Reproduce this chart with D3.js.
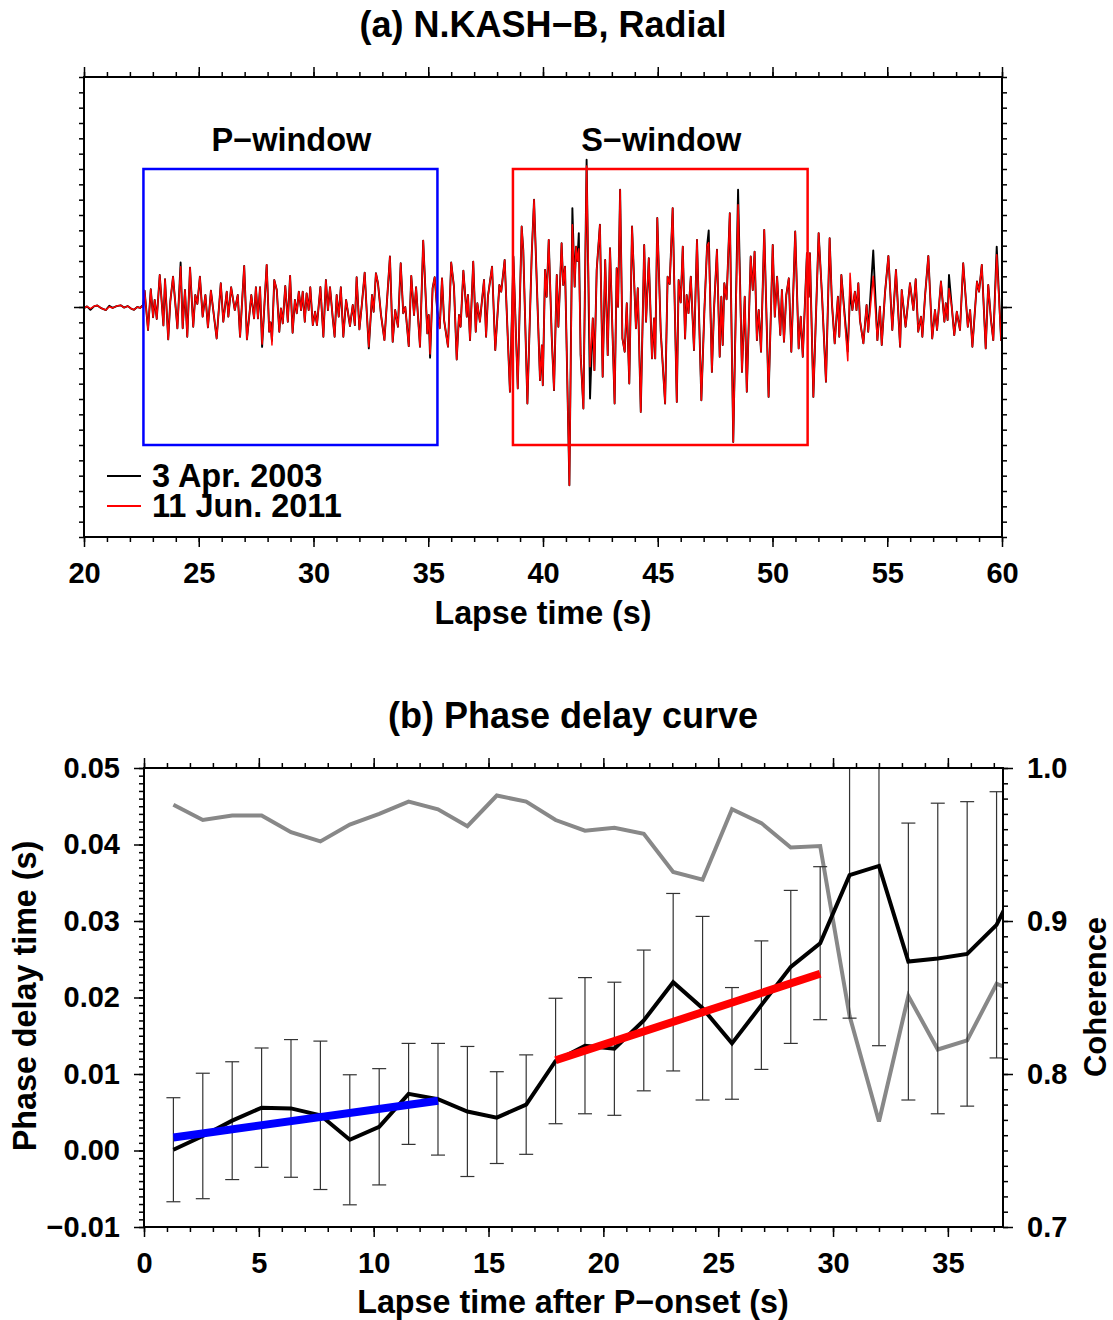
<!DOCTYPE html>
<html><head><meta charset="utf-8">
<script src="https://cdn.jsdelivr.net/npm/d3@7"></script>
<style>
body{margin:0;background:#fff}
svg text{font-family:"Liberation Sans",Arial,Helvetica,sans-serif;font-weight:bold;fill:#000}
</style></head><body>
<svg id="chart" width="1113" height="1320"></svg>
<script>
// ---------------- Panel (a) data: seismogram extrema (time s, amplitude, arbitrary units) ----------------
const waveTimes = [
20.00,20.13,20.28,20.45,20.58,20.75,20.95,21.10,21.25,21.42,21.60,21.75,21.90,22.05,22.18,22.32,22.45,22.54,22.58,
22.64,22.79,22.91,23.01,23.08,23.17,23.30,23.46,23.53,23.67,23.76,23.88,24.07,24.21,24.30,24.40,24.50,24.62,24.76,24.85,24.94,
25.05,25.17,25.29,25.40,25.53,25.78,25.96,26.07,26.22,26.29,26.41,26.57,26.70,26.80,26.98,27.10,27.29,27.41,27.49,27.58,27.67,
27.76,27.96,28.07,28.13,28.19,28.29,28.40,28.51,28.58,28.66,28.77,28.88,28.98,29.09,29.19,29.27,29.36,29.46,29.53,29.62,29.70,
29.79,29.86,29.97,30.07,30.15,30.30,30.43,30.54,30.63,30.72,30.84,30.92,31.01,31.10,31.19,31.30,31.42,31.59,31.71,31.80,31.88,
32.00,32.11,32.23,32.32,32.41,32.55,32.62,32.72,32.81,32.94,33.09,33.33,33.45,33.56,33.68,33.80,33.91,34.00,34.15,34.26,34.38,
34.47,34.64,34.78,34.96,35.02,35.08,35.19,35.28,35.39,35.50,35.60,35.69,35.86,36.00,36.12,36.24,36.34,36.41,36.53,36.68,36.73,
36.82,36.96,37.07,37.14,37.25,37.43,37.52,37.60,37.78,37.92,38.10,38.18,38.33,38.56,38.71,38.90,39.07,39.14,39.32,39.51,39.61,
39.87,39.95,39.99,40.09,40.16,40.25,40.38,40.48,40.60,40.67,40.81,40.88,40.96,41.15,41.28,41.38,41.44,41.50,41.56,41.64,41.76,
41.90,42.05,42.17,42.24,42.34,42.48,42.60,42.71,42.82,42.92,43.12,43.21,43.27,43.36,43.46,43.56,43.65,43.76,43.88,44.05,44.13,
44.26,44.41,44.49,44.61,44.75,44.84,44.89,44.98,45.13,45.32,45.43,45.52,45.65,45.83,45.91,46.00,46.09,46.19,46.26,46.34,46.44,
46.58,46.71,46.90,47.03,47.15,47.22,47.36,47.45,47.58,47.70,47.77,47.83,47.90,48.00,48.14,48.29,48.50,48.67,48.79,48.88,49.05,
49.14,49.22,49.32,49.40,49.50,49.64,49.83,50.01,50.10,50.20,50.34,50.41,50.50,50.60,50.71,50.82,50.99,51.14,51.23,51.32,51.50,
51.58,51.63,51.78,52.01,52.16,52.33,52.49,52.59,52.71,52.85,52.91,53.00,53.28,53.38,53.48,53.59,53.66,53.74,53.81,53.96,54.10,
54.17,54.39,54.57,54.68,54.76,54.90,55.05,55.22,55.38,55.56,55.63,55.80,55.99,56.14,56.24,56.35,56.47,56.53,56.65,56.79,56.96,
57.08,57.17,57.34,57.49,57.55,57.63,57.69,57.81,57.92,58.03,58.17,58.31,58.51,58.61,58.71,58.91,59.00,59.12,59.29,59.40,59.52,
59.62,59.77,59.96,60.00];
const wave2011 = [
-0.008,0.004,-0.010,0.006,0.010,-0.008,-0.020,0.002,-0.006,0.006,0.011,-0.004,0.006,-0.010,-0.018,0.000,-0.006,0.008,0.000,
0.107,-0.150,0.116,-0.067,0.046,-0.078,0.209,-0.120,0.181,-0.211,0.035,0.198,-0.139,0.263,-0.139,0.111,-0.194,0.257,-0.129,0.078,0.020,
0.198,-0.063,0.078,-0.133,0.107,-0.205,0.155,-0.096,0.100,-0.063,0.129,-0.020,0.078,-0.194,0.268,-0.211,0.078,-0.074,0.129,-0.074,0.129,
-0.242,0.275,-0.161,-0.100,-0.248,0.176,0.111,-0.161,-0.009,-0.107,0.137,-0.096,0.203,-0.168,0.046,-0.041,0.100,-0.020,0.100,-0.096,0.089,
-0.020,0.129,-0.118,-0.031,-0.118,0.130,-0.194,0.176,-0.020,0.129,-0.074,-0.194,0.078,-0.063,0.129,-0.194,0.046,-0.124,0.013,-0.118,0.194,
-0.146,0.020,0.224,-0.031,-0.259,0.078,-0.031,0.220,0.155,-0.050,-0.216,0.329,-0.227,-0.020,-0.129,0.285,-0.041,0.000,-0.255,0.203,-0.052,
0.129,-0.259,0.433,-0.172,-0.052,-0.307,0.122,0.194,-0.020,-0.139,0.187,-0.085,-0.259,0.290,0.133,-0.342,-0.052,-0.129,0.237,-0.063,0.078,
-0.216,0.296,-0.161,0.024,-0.096,0.176,-0.194,0.067,0.263,-0.281,0.144,0.100,0.307,-0.553,0.329,-0.531,0.525,0.373,-0.629,0.350,0.699,
-0.477,-0.250,-0.510,0.242,0.067,0.438,-0.194,-0.542,0.209,-0.129,0.416,0.144,0.263,-1.163,0.536,0.133,0.394,0.300,0.380,-0.314,-0.662,
0.920,-0.390,-0.074,-0.412,0.242,0.536,-0.455,0.307,-0.314,0.383,-0.629,0.253,0.002,0.765,-0.205,-0.292,0.024,-0.499,0.525,-0.139,0.122,
-0.684,0.405,-0.096,0.318,-0.335,-0.074,-0.335,0.580,-0.161,-0.629,0.198,0.150,0.645,-0.619,0.176,0.030,0.394,-0.205,0.078,-0.040,0.198,
-0.281,0.438,-0.608,-0.031,0.399,0.420,-0.423,-0.020,0.373,-0.325,0.067,-0.248,0.155,0.050,0.612,-0.880,0.667,-0.423,0.067,-0.553,0.329,
0.111,0.361,-0.216,-0.020,-0.292,0.503,-0.586,0.405,-0.063,0.198,-0.183,0.111,-0.227,0.078,0.187,-0.292,0.492,-0.270,-0.063,-0.325,0.351,
0.067,0.351,-0.586,0.482,0.067,-0.488,0.449,0.024,-0.237,0.067,-0.194,0.209,-0.350,0.220,-0.020,0.100,-0.020,0.155,-0.085,-0.237,0.013,
-0.161,0.200,-0.216,0.002,-0.248,0.089,0.333,-0.150,0.242,-0.259,0.111,-0.129,0.155,-0.020,0.181,-0.161,-0.063,-0.194,0.078,0.333,-0.205,
-0.020,-0.150,0.166,-0.096,0.024,-0.085,0.120,0.002,-0.183,-0.031,-0.150,0.285,-0.129,-0.020,-0.259,0.166,0.100,0.275,-0.270,0.144,-0.085,
-0.216,0.340,-0.216,-0.150];
// 2003 trace: same as 2011 except at these peaks [time, amplitude]
const wave2003Peaks = [[20.28,-0.018],[21.10,0.008],[24.21,0.290],[27.76,-0.260],[28.19,-0.220],[32.41,-0.270],[35.08,-0.330],
[41.28,0.645],[41.56,0.482],[41.90,0.960],[42.05,-0.597],[47.22,0.499],[48.50,0.765],[53.28,-0.290],[53.38,0.100],
[54.39,0.368],[57.69,0.209],[59.77,0.394]];
const windowNames = ["P\u2212window","S\u2212window"];
const windowStart = [22.59, 38.69];
const windowEnd = [35.40, 51.53];
const windowHalfHeight = 0.9;
const windowColors = ["#0000ff","#ff0000"];
const legendLabels = ["3 Apr. 2003","11 Jun. 2011"];
const traceColors = ["#000000","#ff0000"];
const xTicksA = [20,25,30,35,40,45,50,55,60];

// ---------------- Panel (b) data ----------------
const lagTime = [1.28,2.56,3.84,5.12,6.40,7.68,8.96,10.24,11.52,12.80,14.08,15.36,16.64,17.92,19.20,20.48,21.76,23.04,24.32,25.60,
26.88,28.16,29.44,30.72,32.00,33.28,34.56,35.84,37.12,38.40];
const phaseDelay = [0.0001,0.0019,0.0039,0.0056,0.0055,0.0046,0.0014,0.0031,0.0074,0.0067,0.0051,0.0043,0.0060,0.0117,0.0137,0.0133,
0.0170,0.0220,0.0186,0.0140,0.0190,0.0240,0.0271,0.0360,0.0372,0.0247,0.0251,0.0257,0.0295,0.0372];
const phaseErr = [0.0068,0.0082,0.0077,0.0078,0.0090,0.0097,0.0085,0.0076,0.0066,0.0073,0.0085,0.0060,0.0065,0.0082,0.0089,0.0087,
0.0092,0.0116,0.0120,0.0073,0.0084,0.0100,0.0100,0.0187,0.0235,0.0181,0.0203,0.0199,0.0174,0.0180];
const coherence = [0.976,0.966,0.969,0.969,0.958,0.952,0.963,0.970,0.978,0.973,0.962,0.982,0.978,0.966,0.959,0.961,0.957,0.932,0.927,
0.973,0.964,0.948,0.949,0.838,0.769,0.851,0.816,0.822,0.859,0.851];
const fitPTime = [1.28, 12.80], fitPDelay = [0.0017, 0.0065];
const fitSTime = [17.92, 29.44], fitSDelay = [0.0118, 0.0231];
const xTicksB = [0,5,10,15,20,25,30,35];
const yTicksL = [-0.01,0.00,0.01,0.02,0.03,0.04,0.05];
const yTicksR = [0.7,0.8,0.9,1.0];

// ---------------- drawing ----------------
const svg = d3.select("#chart");
const FF = '"Liberation Sans",Arial,Helvetica,sans-serif';

function styleAxis(a, fs){
  a.select(".domain").remove();
  a.selectAll(".tick line").attr("stroke","#000").attr("stroke-width",1.5);
  a.selectAll(".tick text").attr("font-size",fs).attr("font-family",FF).attr("font-weight","bold").attr("fill","#000");
  return a;
}
function drawAxis(gen, tr, fs){ return styleAxis(svg.append("g").attr("transform",tr).call(gen), fs||29); }

// ===== Panel (a) =====
const xA = d3.scaleLinear().domain([20,60]).range([84,1002]);
const yA = d3.scaleLinear().domain([-1.5,1.5]).range([537,77]);
svg.append("clipPath").attr("id","clipA").append("rect")
  .attr("x",xA(20)).attr("y",yA(1.5)).attr("width",xA(60)-xA(20)).attr("height",yA(-1.5)-yA(1.5));

const overrides = new Map(wave2003Peaks.map(d=>[d[0].toFixed(2), d[1]]));
const wave2003 = waveTimes.map((t,i)=> overrides.has(t.toFixed(2)) ? overrides.get(t.toFixed(2)) : wave2011[i]);
const lineA = d3.line().x(d=>xA(d[0])).y(d=>yA(d[1]));
const traces = [waveTimes.map((t,i)=>[t,wave2003[i]]), waveTimes.map((t,i)=>[t,wave2011[i]])];
const traceWidths = [1.9, 1.5];
const gA = svg.append("g").attr("clip-path","url(#clipA)");
traces.forEach((tr,i)=>{
  gA.append("path").datum(tr).attr("d",lineA).attr("fill","none")
    .attr("stroke",traceColors[i]).attr("stroke-width",traceWidths[i]).attr("stroke-linejoin","round");
});
// windows
windowNames.forEach((n,i)=>{
  svg.append("rect").attr("x",xA(windowStart[i])).attr("y",yA(windowHalfHeight))
    .attr("width",xA(windowEnd[i])-xA(windowStart[i])).attr("height",yA(-windowHalfHeight)-yA(windowHalfHeight))
    .attr("fill","none").attr("stroke",windowColors[i]).attr("stroke-width",2.5);
  svg.append("text").attr("x",(xA(windowStart[i])+xA(windowEnd[i]))/2+1).attr("y",151)
    .attr("text-anchor","middle").attr("font-size",32.5).text(n);
});
// legend
legendLabels.forEach((l,i)=>{
  const y = 476 + i*30;
  svg.append("line").attr("x1",107).attr("x2",141).attr("y1",y).attr("y2",y)
    .attr("stroke",traceColors[i]).attr("stroke-width",1.8);
  svg.append("text").attr("x",152).attr("y",y+11).attr("font-size",32.5).text(l);
});
// frame + axes
svg.append("rect").attr("x",84).attr("y",77).attr("width",918).attr("height",460)
  .attr("fill","none").attr("stroke","#000").attr("stroke-width",2);
drawAxis(d3.axisBottom(xA).tickValues(d3.range(20,61,1)).tickSize(5).tickFormat(""),"translate(0,537)");
drawAxis(d3.axisBottom(xA).tickValues(xTicksA).tickSize(10).tickPadding(15).tickFormat(d3.format("d")),"translate(0,537)");
drawAxis(d3.axisTop(xA).tickValues(d3.range(20,61,1)).tickSize(5).tickFormat(""),"translate(0,77)");
drawAxis(d3.axisTop(xA).tickValues(xTicksA).tickSize(10).tickFormat(""),"translate(0,77)");
const yMinorA = d3.range(-15,16).map(d=>d/10);
drawAxis(d3.axisLeft(yA).tickValues(yMinorA).tickSize(5).tickFormat(""),"translate(84,0)");
drawAxis(d3.axisLeft(yA).tickValues([0]).tickSize(10).tickFormat(""),"translate(84,0)");
drawAxis(d3.axisRight(yA).tickValues(yMinorA).tickSize(5).tickFormat(""),"translate(1002,0)");
drawAxis(d3.axisRight(yA).tickValues([0]).tickSize(10).tickFormat(""),"translate(1002,0)");
svg.append("text").attr("x",543).attr("y",37).attr("text-anchor","middle").attr("font-size",36).text("(a) N.KASH\u2212B, Radial");
svg.append("text").attr("x",543).attr("y",624).attr("text-anchor","middle").attr("font-size",32.3).text("Lapse time (s)");

// ===== Panel (b) =====
const xB = d3.scaleLinear().domain([0,37.4]).range([144,1003]);
const yL = d3.scaleLinear().domain([-0.01,0.05]).range([1227,768]);
const yR = d3.scaleLinear().domain([0.7,1.0]).range([1227,768]);
svg.append("clipPath").attr("id","clipB").append("rect")
  .attr("x",xB(0)).attr("y",yL(0.05)).attr("width",xB(37.4)-xB(0)).attr("height",yL(-0.01)-yL(0.05));
const gB = svg.append("g").attr("clip-path","url(#clipB)");
// coherence
gB.append("path").datum(lagTime.map((t,i)=>[t,coherence[i]]))
  .attr("d",d3.line().x(d=>xB(d[0])).y(d=>yR(d[1]))).attr("fill","none")
  .attr("stroke","#888888").attr("stroke-width",4).attr("stroke-linejoin","miter");
// error bars
const eb = gB.selectAll("g.eb").data(lagTime.map((t,i)=>({t, v:phaseDelay[i], e:phaseErr[i]}))).join("g").attr("class","eb");
eb.append("line").attr("x1",d=>xB(d.t)).attr("x2",d=>xB(d.t)).attr("y1",d=>yL(d.v-d.e)).attr("y2",d=>yL(d.v+d.e))
  .attr("stroke","#333").attr("stroke-width",1.2);
[-1,1].forEach(s=>{
  eb.append("line").attr("x1",d=>xB(d.t)-7).attr("x2",d=>xB(d.t)+7)
    .attr("y1",d=>yL(d.v+s*d.e)).attr("y2",d=>yL(d.v+s*d.e)).attr("stroke","#333").attr("stroke-width",1.2);
});
// phase delay
gB.append("path").datum(lagTime.map((t,i)=>[t,phaseDelay[i]]))
  .attr("d",d3.line().x(d=>xB(d[0])).y(d=>yL(d[1]))).attr("fill","none")
  .attr("stroke","#000").attr("stroke-width",4).attr("stroke-linejoin","miter");
// fits
[[fitPTime,fitPDelay,"#0000ff"],[fitSTime,fitSDelay,"#ff0000"]].forEach(([tt,vv,c])=>{
  gB.append("path").datum(tt.map((t,i)=>[t,vv[i]]))
    .attr("d",d3.line().x(d=>xB(d[0])).y(d=>yL(d[1]))).attr("fill","none")
    .attr("stroke",c).attr("stroke-width",8).attr("stroke-linecap","butt");
});
// frame + axes
svg.append("rect").attr("x",144).attr("y",768).attr("width",859).attr("height",459)
  .attr("fill","none").attr("stroke","#000").attr("stroke-width",2);
drawAxis(d3.axisBottom(xB).tickValues(d3.range(0,38,1)).tickSize(5).tickFormat(""),"translate(0,1227)");
drawAxis(d3.axisBottom(xB).tickValues(xTicksB).tickSize(10).tickPadding(15).tickFormat(d3.format("d")),"translate(0,1227)");
drawAxis(d3.axisTop(xB).tickValues(d3.range(0,38,1)).tickSize(5).tickFormat(""),"translate(0,768)");
drawAxis(d3.axisTop(xB).tickValues(xTicksB).tickSize(10).tickFormat(""),"translate(0,768)");
drawAxis(d3.axisLeft(yL).tickValues(d3.range(-10,51).map(d=>d/1000)).tickSize(5).tickFormat(""),"translate(144,0)");
drawAxis(d3.axisLeft(yL).tickValues(yTicksL).tickSize(10).tickPadding(14).tickFormat(d3.format(".2f")),"translate(144,0)");
drawAxis(d3.axisRight(yR).tickValues(d3.range(70,101).map(d=>d/100)).tickSize(5).tickFormat(""),"translate(1003,0)");
drawAxis(d3.axisRight(yR).tickValues(yTicksR).tickSize(10).tickPadding(14).tickFormat(d3.format(".1f")),"translate(1003,0)");
svg.append("text").attr("x",573).attr("y",728).attr("text-anchor","middle").attr("font-size",36).text("(b) Phase delay curve");
svg.append("text").attr("x",573).attr("y",1313).attr("text-anchor","middle").attr("font-size",32.3).text("Lapse time after P\u2212onset (s)");
svg.append("text").attr("transform","translate(36,996) rotate(-90)").attr("text-anchor","middle").attr("font-size",32.3).text("Phase delay time (s)");
svg.append("text").attr("transform","translate(1106,997) rotate(-90)").attr("text-anchor","middle").attr("font-size",31).text("Coherence");
</script>
</body></html>
